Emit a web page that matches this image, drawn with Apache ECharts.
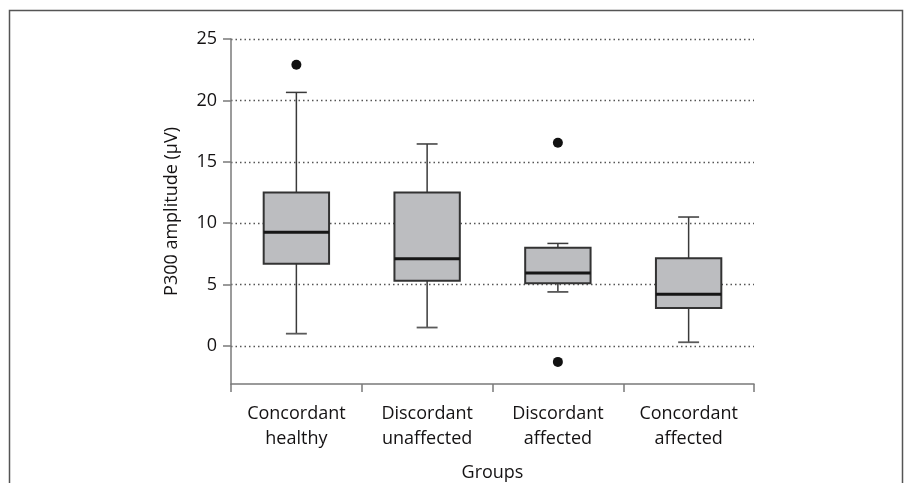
<!DOCTYPE html>
<html>
<head>
<meta charset="utf-8">
<script src="https://cdn.jsdelivr.net/npm/echarts@6/dist/echarts.min.js"></script>
<style>
html,body{margin:0;padding:0;background:#fff;}
#chart{width:904px;height:483px;}
</style>
</head>
<body>
<div id="chart"></div>
<script>
const categories = ['Concordant\nhealthy', 'Discordant\nunaffected', 'Discordant\naffected', 'Concordant\naffected'];
const whiskerLow  = [1.0, 1.5, 4.4, 0.3];
const q1          = [6.7, 5.3, 5.1, 3.1];
const median      = [9.25, 7.1, 5.95, 4.2];
const q3          = [12.5, 12.5, 8.0, 7.15];
const whiskerHigh = [20.65, 16.45, 8.35, 10.5];
const outliers    = [[0, 22.9], [2, 16.55], [2, -1.3]];
const yTicks      = [0, 5, 10, 15, 20, 25];

const FONT = 'Open Sans';
const TXT = '#141213';

const boxData = categories.map((c, i) => [i, whiskerLow[i], q1[i], median[i], q3[i], whiskerHigh[i]]);

function renderBox(params, api) {
  const idx = api.value(0);
  const band = api.size([1, 0])[0];
  const half = band * 0.25;
  const cap = band * 0.08;
  const pLow = api.coord([idx, api.value(1)]);
  const pQ1 = api.coord([idx, api.value(2)]);
  const pMed = api.coord([idx, api.value(3)]);
  const pQ3 = api.coord([idx, api.value(4)]);
  const pHigh = api.coord([idx, api.value(5)]);
  const x = pQ1[0];
  const wStyle = { stroke: '#3a3a3a', lineWidth: 1.5 };
  return {
    type: 'group',
    children: [
      { type: 'line', shape: { x1: x, y1: pLow[1], x2: x, y2: pQ1[1] }, style: wStyle },
      { type: 'line', shape: { x1: x, y1: pQ3[1], x2: x, y2: pHigh[1] }, style: wStyle },
      { type: 'line', shape: { x1: x - cap, y1: pLow[1], x2: x + cap, y2: pLow[1] }, style: { stroke: '#5a5a5a', lineWidth: 1.8 } },
      { type: 'line', shape: { x1: x - cap, y1: pHigh[1], x2: x + cap, y2: pHigh[1] }, style: { stroke: '#3a3a3a', lineWidth: 1.5 } },
      { type: 'rect', shape: { x: x - half, y: pQ3[1], width: half * 2, height: pQ1[1] - pQ3[1] },
        style: { fill: '#bcbdc0', stroke: '#333', lineWidth: 2 } },
      { type: 'line', shape: { x1: x - half, y1: pMed[1], x2: x + half, y2: pMed[1] }, style: { stroke: '#161616', lineWidth: 3 } }
    ]
  };
}

const chart = echarts.init(document.getElementById('chart'), null, { renderer: 'canvas' });
chart.setOption({
  animation: false,
  backgroundColor: '#ffffff',
  graphic: [{
    type: 'polyline',
    shape: { points: [[9.5, 483], [9.5, 10.5], [902.5, 10.5], [902.5, 483]] },
    style: { stroke: '#555', lineWidth: 1.5, fill: null },
    silent: true
  }],
  grid: { left: 231, right: 150, top: 39, bottom: 99, containLabel: false, outerBoundsMode: 'none' },
  xAxis: {
    type: 'category',
    data: categories,
    boundaryGap: true,
    name: 'Groups',
    nameLocation: 'middle',
    nameGap: 80,
    nameTextStyle: { fontFamily: FONT, fontSize: 18, color: TXT },
    axisLine: { onZero: false, lineStyle: { color: '#7a7a7a', width: 1.5 } },
    axisTick: { show: true, alignWithLabel: false, length: 8, lineStyle: { color: '#7a7a7a', width: 1.5 } },
    axisLabel: { fontFamily: FONT, fontSize: 18, color: TXT, margin: 17, lineHeight: 25, interval: 0 },
    splitLine: { show: false }
  },
  yAxis: {
    type: 'value',
    min: -3.1,
    max: 25,
    name: 'P300 amplitude (μV)',
    nameLocation: 'middle',
    nameGap: 50,
    nameTextStyle: { fontFamily: FONT, fontSize: 18, color: TXT },
    axisLine: { show: true, lineStyle: { color: '#7a7a7a', width: 1.5 } },
    axisTick: { show: true, length: 8, customValues: yTicks, lineStyle: { color: '#7a7a7a', width: 1.5 } },
    axisLabel: { fontFamily: FONT, fontSize: 18, color: TXT, margin: 14, customValues: yTicks },
    splitLine: { show: true, lineStyle: { color: '#555', width: 1.3, type: [1.5, 3] } }
  },
  series: [
    {
      type: 'custom',
      renderItem: renderBox,
      data: boxData,
      encode: { x: 0, y: [1, 2, 3, 4, 5] },
      z: 5
    },
    {
      type: 'scatter',
      data: outliers,
      symbol: 'circle',
      symbolSize: 10,
      itemStyle: { color: '#111', opacity: 1 },
      z: 6
    }
  ]
});
</script>
</body>
</html>
